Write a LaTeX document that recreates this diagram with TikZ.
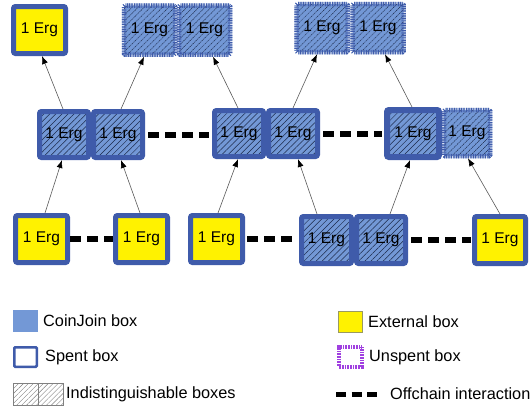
\documentclass[tikz,border=0pt]{standalone}
\usepackage{fontspec}
\setmainfont{Liberation Sans}
\usetikzlibrary{arrows.meta,patterns.meta}
\definecolor{bblue}{HTML}{3F5BAA}
\definecolor{cjblue}{HTML}{7398D6}
\definecolor{hatchc}{HTML}{1C2A4A}
\definecolor{upurple}{HTML}{A040E0}
\definecolor{extborder}{HTML}{9A9A60}
\newcommand\ergfont{\fontsize{15.5}{18}\selectfont}
\newcommand\legfont{\fontsize{16.3}{19}\selectfont}
\tikzset{
 box/.style={rectangle, rounded corners=2pt, inner sep=0pt, font=\ergfont, text=black},
 ext/.style={box, draw=bblue, line width=5pt, fill=yellow, minimum width=52pt, minimum height=47pt},
 hatchcj/.style={preaction={fill=cjblue}, pattern={Lines[angle=45,distance=4.3pt,line width=0.5pt]}, pattern color=hatchc},
 spentcj/.style={box, hatchcj, draw=bblue, line width=5pt, minimum width=49pt, minimum height=46pt},
 unspentcj/.style={box, rounded corners=1pt, preaction={fill=cjblue}, preaction={draw=cjblue!85!white, line width=4.5pt},
   pattern={Lines[angle=45,distance=4.3pt,line width=0.5pt]}, pattern color=hatchc,
   draw=bblue, line width=4.5pt, dash pattern=on 0.9pt off 0.8pt, minimum width=51pt, minimum height=49pt},
 offchain/.style={line width=6pt, dash pattern=on 11pt off 6pt},
 flow/.style={draw=gray!70!black, line width=0.6pt, -{Latex[length=8pt,width=6pt,color=black]}},
 legtext/.style={anchor=west, inner sep=0pt, font=\legfont},
}
\begin{document}
\begin{tikzpicture}[x=1pt,y=-1pt]
\useasboundingbox (0,0) rectangle (530,407);
% top row
\node[ext] (T1) at (39.5,30) {1 Erg};
\node[unspentcj] (T2a) at (149.5,30) {1 Erg};
\node[unspentcj] (T2b) at (204.5,30) {1 Erg};
\node[unspentcj, minimum height=48pt] (T3a) at (322,28) {1 Erg};
\node[unspentcj, minimum height=48pt] (T3b) at (378,28) {1 Erg};
% middle row
\node[spentcj] (M1a) at (64,134.5) {1 Erg};
\node[spentcj] (M1b) at (118,134.5) {1 Erg};
\node[spentcj] (M2a) at (239,133.5) {1 Erg};
\node[spentcj] (M2b) at (293,133.5) {1 Erg};
\node[unspentcj, minimum width=46pt, minimum height=46pt] (M3b) at (467,133) {1 Erg};
\node[spentcj, line width=6pt, minimum width=52pt, minimum height=47pt] (M3a) at (413,133.5) {1 Erg};
% bottom row
\node[ext] (B1) at (41.5,239) {1 Erg};
\node[ext] (B2) at (141.5,239) {1 Erg};
\node[ext] (B3) at (216.5,239) {1 Erg};
\node[spentcj, minimum width=50pt, minimum height=47pt] (B4a) at (326.5,240) {1 Erg};
\node[spentcj, minimum width=49pt, minimum height=47pt] (B4b) at (381,240) {1 Erg};
\node[ext, minimum width=51pt] (B5) at (500,240) {1 Erg};
% offchain links
\draw[offchain, shorten <=3pt, shorten >=3pt] (M1b.east) -- (M1b.east -| M2a.west);
\draw[offchain, shorten <=3pt, shorten >=2pt] (M2b.east) -- (M2b.east -| M3a.west);
\draw[offchain] (B1.east) -- (B2.west);
\draw[offchain, shorten <=2pt, shorten >=1pt] (B3.east) -- (B3.east -| B4a.west);
\draw[offchain, shorten <=3pt, shorten >=1pt] (B4b.east) -- (B4b.east -| B5.west);
% flows up
\draw[flow] ([xshift=-1pt]M1a.north) -- ([xshift=2.5pt]T1.south);
\draw[flow] ([xshift=3pt]M1b.north) -- ([xshift=-5.5pt]T2a.south);
\draw[flow] ([xshift=-1pt]M2a.north) -- ([xshift=8.5pt]T2b.south);
\draw[flow] (M2b.north) -- ([xshift=-5pt]T3a.south);
\draw[flow] ([xshift=-1pt]M3a.north) -- ([xshift=7pt]T3b.south);
\draw[flow] ([xshift=3.5pt]B1.north) -- ([xshift=-2pt]M1a.south);
\draw[flow] ([xshift=-1.5pt]B2.north) -- ([xshift=3pt]M1b.south);
\draw[flow] ([xshift=1.5pt]B3.north) -- ([xshift=-1pt]M2a.south);
\draw[flow] ([xshift=-9.5pt]B4a.north) -- ([xshift=5pt]M2b.south);
\draw[flow] ([xshift=9pt]B4b.north) -- ([xshift=-3pt]M3a.south);
\draw[flow] (B5.north) -- ([xshift=1pt]M3b.south);
% legend
\node[fill=cjblue, inner sep=0pt, minimum width=25pt, minimum height=22pt] (L1) at (25.5,321) {};
\node[legtext] (L1t) at (43,321) {CoinJoin box};
\node[draw=bblue, line width=2.5pt, fill=white, rounded corners=1pt, inner sep=0pt, minimum width=22.5pt, minimum height=19.5pt] (L2) at (25.5,357) {};
\node[legtext] (L2t) at (45,357) {Spent box};
\node[draw=gray, line width=0.4pt, inner sep=0pt, minimum width=25pt, minimum height=22pt, pattern={Lines[angle=45,distance=3.5pt,line width=0.4pt]}, pattern color=gray] (L3a) at (25.5,394) {};
\node[draw=gray, line width=0.4pt, inner sep=0pt, minimum width=25pt, minimum height=22pt, pattern={Lines[angle=45,distance=3.5pt,line width=0.4pt]}, pattern color=gray] (L3b) at (50.5,394) {};
\node[legtext] (L3t) at (66,394) {Indistinguishable boxes};
\node[fill=yellow, draw=extborder, line width=0.6pt, inner sep=0pt, minimum width=24pt, minimum height=21pt] (L4) at (350,321.5) {};
\node[legtext] (L4t) at (368,321.5) {External box};
\node[draw=upurple, line width=4pt, dash pattern=on 0.8pt off 0.8pt, fill=white, inner sep=0pt, minimum width=23pt, minimum height=20pt] (L5) at (350,356.5) {};
\node[legtext] (L5t) at (369,357) {Unspent box};
\coordinate (oc1) at (336,394);
\coordinate (oc2) at (378,394);
\draw[line width=5pt, dash pattern=on 10pt off 5.5pt] (oc1) -- (oc2);
\node[legtext] (L6t) at (390,394) {Offchain interaction};
\end{tikzpicture}
\end{document}
